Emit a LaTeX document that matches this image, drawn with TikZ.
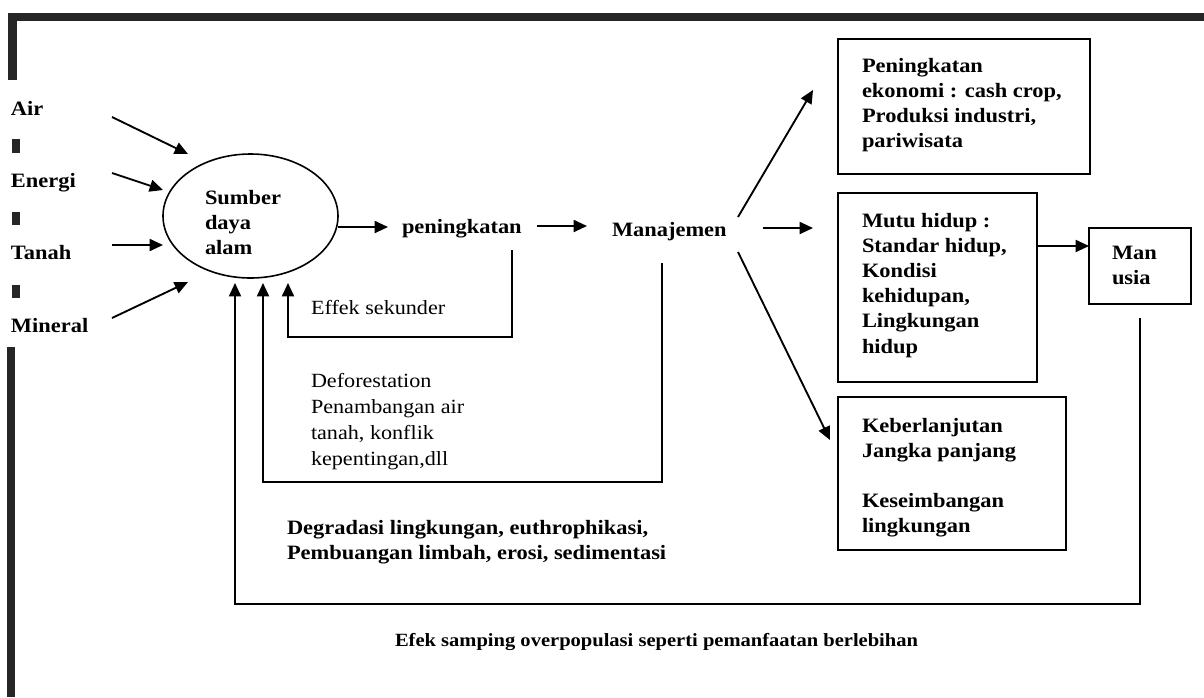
\documentclass[tikz,border=0pt]{standalone}
\usepackage{fontspec}
\setmainfont{Liberation Serif}[FakeStretch=1.1]
\usetikzlibrary{arrows.meta,calc,fit,shapes.geometric}
\begin{document}
\begin{tikzpicture}[x=0.75pt,y=-0.75pt,
  every node/.style={inner sep=0pt,outer sep=0pt},
  bt/.style={font=\bfseries\fontsize{15.3pt}{18.9pt}\selectfont,align=left,anchor=north west},
  rt/.style={font=\fontsize{15.1pt}{19.5pt}\selectfont,align=left,anchor=north west},
  side/.style={font=\bfseries\fontsize{15.3pt}{18.9pt}\selectfont,anchor=base west},
  box/.style={draw,line width=1.4pt,fit={#1}},
  arr/.style={line width=1.4pt,-{Triangle[length=10pt,width=9pt]}},
  bar/.style={fill=black!85}]
\useasboundingbox (0,0) rectangle (1204,697);
% scanned frame bars
\fill[bar] (8,13) rectangle (1204,21);
\fill[bar] (8,13) rectangle (17,80);
\fill[bar] (12,139) rectangle (20,153);
\fill[bar] (12,212) rectangle (20,225);
\fill[bar] (12,285) rectangle (20,298);
\fill[bar] (7,347) rectangle (15,697);
% left inputs
\node[side] (air) at (11,115) {Air};
\node[side] (energi) at (11,187) {Energi};
\node[side] (tanah) at (11,259) {Tanah};
\node[side] (mineral) at (11,332) {Mineral};
% central resource
\node[draw,ellipse,line width=1.2pt,minimum width=131.25pt,minimum height=93pt] (sda) at (250.5,216) {};
\node[bt] (sdat) at (205,190) {Sumber\\daya\\alam};
\node[side] (pen) at (402,233) {peningkatan};
\node[side] (man) at (612,236) {Manajemen};
% boxes
\node[box={(838,39)(1090,174)}] (b1) {};
\node[bt] (b1t) at (862,58) {Peningkatan\\ekonomi : cash crop,\\Produksi industri,\\pariwisata};
\node[box={(838,193)(1037,382)}] (b2) {};
\node[bt] (b2t) at (862,213) {Mutu hidup :\\Standar hidup,\\Kondisi\\kehidupan,\\Lingkungan\\hidup};
\node[box={(838,397)(1066,550)}] (b3) {};
\node[bt] (b3t) at (862,418) {Keberlanjutan\\Jangka panjang\\[18.9pt]Keseimbangan\\lingkungan};
\node[box={(1089,228)(1191,304)}] (mu) {};
\node[bt] (mut) at (1112,246) {Man\\usia};
% texts
\node[rt] (efs) at (311,300) {Effek sekunder};
\node[rt] (defo) at (311,373) {Deforestation\\Penambangan air\\tanah, konflik\\kepentingan,dll};
\node[bt] (degr) at (287,520) {Degradasi lingkungan, euthrophikasi,\\Pembuangan limbah, erosi, sedimentasi};
\node[bt,font=\bfseries\fontsize{14pt}{18pt}\selectfont] (efek) at (395,633) {Efek samping overpopulasi seperti pemanfaatan berlebihan};
% connector end points
\coordinate (airS) at (112,117);  \coordinate (airE) at (188,154);
\coordinate (enS) at (112,173);   \coordinate (enE) at (163,190);
\coordinate (taS) at (112,245);   \coordinate (taE) at (163,245);
\coordinate (miS) at (112,318);   \coordinate (miE) at (188,282);
\coordinate (sdaR) at (338,227);  \coordinate (penL) at (388,227);
\coordinate (penR) at (537,226);  \coordinate (manL) at (587,226);
\coordinate (manU) at (738,217);  \coordinate (b1in) at (813,90);
\coordinate (manM) at (763,228);  \coordinate (b2in) at (813,228);
\coordinate (manD) at (738,252);  \coordinate (b3in) at (830,440);
\coordinate (b2out) at (1037,246); \coordinate (muin) at (1089,246);
\coordinate (penB) at (512,250);
\coordinate (manB) at (662,263);
\coordinate (muB) at (1140,318);
\coordinate (sdaB1) at (235,283);
\coordinate (sdaB2) at (263,283);
\coordinate (sdaB3) at (288,283);
% connectors
\draw[arr] (airS) -- (airE);
\draw[arr] (enS) -- (enE);
\draw[arr] (taS) -- (taE);
\draw[arr] (miS) -- (miE);
\draw[arr] (sdaR) -- (penL);
\draw[arr] (penR) -- (manL);
\draw[arr] (manU) -- (b1in);
\draw[arr] (manM) -- (b2in);
\draw[arr] (manD) -- (b3in);
\draw[arr] (b2out) -- (muin);
\draw[arr] (penB) |- ($(sdaB3)+(0,54)$) -- (sdaB3);
\draw[arr] (manB) |- ($(sdaB2)+(0,199)$) -- (sdaB2);
\draw[arr] (muB) |- ($(sdaB1)+(0,321)$) -- (sdaB1);
\end{tikzpicture}
\end{document}
